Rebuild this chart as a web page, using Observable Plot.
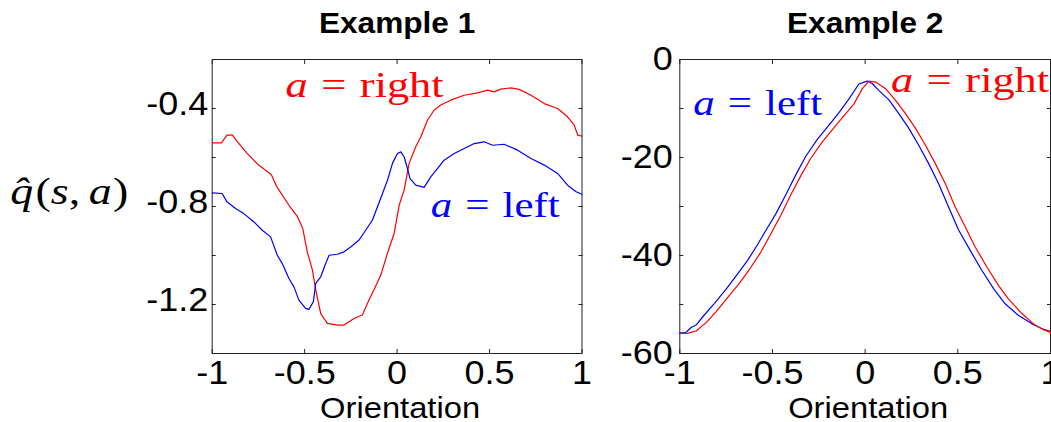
<!DOCTYPE html>
<html>
<head>
<meta charset="utf-8">
<script src="https://cdn.jsdelivr.net/npm/d3@7"></script>
<script src="https://cdn.jsdelivr.net/npm/@observablehq/plot@0.6"></script>
<style>
  html, body { margin: 0; padding: 0; background: #fff; }
  #wrap { position: relative; width: 1051px; height: 422px; overflow: hidden; background: #fff; }
  #wrap > svg { position: absolute; top: 0; }
</style>
</head>
<body>
<div id="wrap"></div>
<script>
// ---------- Example 1 data ----------
const ex1RightX = [-1, -0.95, -0.92, -0.89, -0.87, -0.81, -0.75, -0.68, -0.65, -0.585, -0.54, -0.51, -0.486, -0.458, -0.44, -0.413, -0.377, -0.323, -0.287, -0.233, -0.188, -0.152, -0.125, -0.088, -0.052, -0.016, 0.011, 0.038, 0.065, 0.101, 0.128, 0.164, 0.2, 0.236, 0.29, 0.363, 0.435, 0.489, 0.525, 0.56, 0.615, 0.66, 0.724, 0.796, 0.868, 0.922, 0.958, 0.977, 1];
const ex1RightY = [-0.54, -0.54, -0.509, -0.509, -0.53, -0.584, -0.63, -0.67, -0.72, -0.795, -0.84, -0.89, -0.985, -1.06, -1.14, -1.237, -1.277, -1.284, -1.284, -1.257, -1.243, -1.182, -1.14, -1.08, -0.99, -0.91, -0.795, -0.733, -0.624, -0.556, -0.516, -0.448, -0.407, -0.386, -0.366, -0.346, -0.336, -0.325, -0.332, -0.321, -0.316, -0.322, -0.346, -0.38, -0.4, -0.434, -0.468, -0.509, -0.513];
const ex1LeftX = [-1, -0.946, -0.92, -0.874, -0.829, -0.774, -0.729, -0.684, -0.648, -0.621, -0.585, -0.558, -0.531, -0.495, -0.477, -0.453, -0.44, -0.413, -0.39, -0.368, -0.323, -0.287, -0.251, -0.206, -0.17, -0.134, -0.106, -0.079, -0.052, -0.025, 0.002, 0.02, 0.038, 0.056, 0.07, 0.101, 0.146, 0.182, 0.218, 0.254, 0.309, 0.363, 0.417, 0.471, 0.516, 0.579, 0.652, 0.724, 0.796, 0.868, 0.922, 0.968, 1];
const ex1LeftY = [-0.744, -0.747, -0.781, -0.808, -0.829, -0.863, -0.897, -0.924, -0.999, -1.033, -1.094, -1.128, -1.182, -1.216, -1.22, -1.189, -1.114, -1.087, -1.04, -0.999, -0.995, -0.985, -0.965, -0.937, -0.897, -0.856, -0.801, -0.747, -0.693, -0.624, -0.584, -0.577, -0.597, -0.645, -0.686, -0.713, -0.722, -0.679, -0.645, -0.611, -0.584, -0.563, -0.543, -0.536, -0.55, -0.546, -0.57, -0.604, -0.631, -0.665, -0.713, -0.74, -0.75];

// ---------- Example 2 data ----------
const ex2LeftX = [-1, -0.97, -0.939, -0.912, -0.876, -0.814, -0.751, -0.697, -0.634, -0.581, -0.536, -0.482, -0.428, -0.375, -0.321, -0.258, -0.195, -0.142, -0.088, -0.034, 0.011, 0.038, 0.073, 0.127, 0.181, 0.235, 0.289, 0.342, 0.396, 0.45, 0.504, 0.566, 0.629, 0.692, 0.754, 0.826, 0.898, 0.952, 1];
const ex2LeftY = [-55.8, -55.8, -54.7, -54.2, -52.5, -49.8, -46.9, -44.2, -41.0, -37.8, -34.9, -31.5, -27.6, -23.6, -19.8, -16.3, -13.4, -10.9, -8.1, -5.0, -4.4, -4.9, -6.3, -8.2, -11.0, -14.0, -17.5, -21.2, -25.3, -30.1, -34.8, -38.9, -43.0, -46.7, -49.8, -52.2, -53.9, -54.9, -55.5];
const ex2RightX = [-1, -0.96, -0.912, -0.858, -0.805, -0.751, -0.679, -0.625, -0.563, -0.509, -0.455, -0.401, -0.348, -0.294, -0.231, -0.168, -0.115, -0.061, -0.016, 0.02, 0.056, 0.109, 0.163, 0.217, 0.271, 0.324, 0.378, 0.432, 0.486, 0.539, 0.593, 0.656, 0.719, 0.772, 0.844, 0.916, 0.965, 1];
const ex2RightY = [-55.9, -55.9, -55.4, -53.7, -51.5, -49.0, -45.7, -42.9, -39.3, -35.6, -31.8, -27.6, -23.8, -20.2, -16.8, -13.9, -11.5, -9.1, -6.0, -4.4, -4.6, -5.9, -8.3, -11.0, -14.0, -17.4, -21.2, -25.3, -30.1, -34.1, -38.2, -42.3, -46.1, -48.8, -51.8, -54.2, -55.2, -55.7];

// ---------- ticks and labels ----------
const xTicks = [-1, -0.5, 0, 0.5, 1];
const ex1YTicks = [-1.2, -1.0, -0.8, -0.6, -0.4];
const ex1YLabels = [-1.2, -0.8, -0.4];
const ex2YTicks = [-60, -50, -40, -30, -20, -10, 0];
const ex2YLabels = [-60, -40, -20, 0];
const titles = ["Example 1", "Example 2"];
const xLabel = "Orientation";
const yLabel = "q(s,a)";
const annRight = "a = right";
const annLeft = "a = left";

const fmt = d => (d < 0 ? "-" : "") + String(Math.abs(d));
const pts = (xs, ys) => xs.map((x, i) => ({x, y: ys[i]}));
const SANS = "Liberation Sans, Arial, Helvetica, sans-serif";
const SERIF = "Liberation Serif, Times New Roman, serif";

function panel({width, marginLeft, marginRight, yDomain, yTicks, yLabels, yPad, yDy, series, title, anns, withYLabel}) {
  const marks = [
    Plot.frame({stroke: "#222", strokeWidth: 1}),
    Plot.axisY({ticks: yTicks, anchor: "left", tickSize: -4, tickFormat: () => "", label: null, stroke: "#222"}),
    Plot.axisY({ticks: yTicks, anchor: "right", tickSize: -4, tickFormat: () => "", label: null, stroke: "#222"}),
    Plot.axisX({ticks: xTicks, anchor: "bottom", tickSize: -4, tickFormat: () => "", label: null, stroke: "#222"}),
    Plot.axisX({ticks: xTicks, anchor: "top", tickSize: -4, tickFormat: () => "", label: null, stroke: "#222"}),
    Plot.axisY({ticks: yLabels, anchor: "left", tickSize: 0, tickPadding: yPad, tickFormat: fmt, label: null, fontSize: 33, dy: yDy, fill: "#000"}),
    Plot.axisX({ticks: xTicks, anchor: "bottom", tickSize: 0, tickPadding: 7, tickFormat: fmt, label: null, fontSize: 33, fill: "#000"}),
    ...series.map(s => Plot.line(pts(s.x, s.y), {x: "x", y: "y", stroke: s.color, strokeWidth: 1.2})),
    Plot.text([title], {frameAnchor: "top", dy: -27, lineAnchor: "bottom", fontSize: 29, fontWeight: "bold", fill: "#000"}),
    Plot.text([xLabel], {frameAnchor: "bottom", dy: 64, dx: 3, lineAnchor: "bottom", fontSize: 30, fill: "#000"}),
    ...anns.map(a => Plot.text([a], {x: () => a.x, y: () => a.y, text: () => a.text, textAnchor: "start", lineAnchor: "bottom", fontSize: 36, fontFamily: SERIF, fill: a.color}))
  ];
  if (withYLabel) {
    marks.push(Plot.text([yLabel], {frameAnchor: "left", dx: -202, dy: -3, textAnchor: "start", lineAnchor: "bottom", fontSize: 38, fontFamily: SERIF, fill: "#000"}));
  }
  return Plot.plot({
    width, height: 422,
    marginLeft, marginRight, marginTop: 59, marginBottom: 69,
    x: {domain: [-1, 1]},
    y: {domain: yDomain},
    style: {fontFamily: SANS, background: "transparent", overflow: "visible"},
    marks
  });
}

const p1 = panel({
  width: 600, marginLeft: 211.7, marginRight: 18.5,
  yDomain: [-1.4, -0.2], yTicks: ex1YTicks, yLabels: ex1YLabels, yPad: 4, yDy: -4,
  series: [{x: ex1RightX, y: ex1RightY, color: "#ff0000"}, {x: ex1LeftX, y: ex1LeftY, color: "#0000ff"}],
  title: titles[0],
  anns: [{x: -0.603, y: -0.355, text: annRight, color: "#ff0000"}, {x: 0.182, y: -0.841, text: annLeft, color: "#0000ff"}],
  withYLabel: true
});
const p2 = panel({
  width: 451, marginLeft: 79.3, marginRight: 1,
  yDomain: [-60, 0], yTicks: ex2YTicks, yLabels: ex2YLabels, yPad: 7, yDy: 0,
  series: [{x: ex2LeftX, y: ex2LeftY, color: "#0000ff"}, {x: ex2RightX, y: ex2RightY, color: "#ff0000"}],
  title: titles[1],
  anns: [{x: -0.928, y: -11.4, text: annLeft, color: "#0000ff"}, {x: 0.14, y: -6.7, text: annRight, color: "#ff0000"}],
  withYLabel: false
});
p1.style.left = "0px";
p2.style.left = "600px";
const wrap = document.getElementById("wrap");
wrap.appendChild(p1);
wrap.appendChild(p2);

// ---------- typographic touch-ups (math-style labels, slight horizontal stretch) ----------
const NS = "http://www.w3.org/2000/svg";
function tspan(parent, str, italic, dx) {
  const t = document.createElementNS(NS, "tspan");
  t.textContent = str;
  if (italic) t.setAttribute("font-style", "italic");
  if (dx) t.setAttribute("dx", dx);
  parent.appendChild(t);
}
const widths = {"a = right": 158, "a = left": 129, "q(s,a)": 118};
for (const svg of [p1, p2]) {
  for (const el of svg.querySelectorAll("text")) {
    const s = el.textContent;
    if (!s) continue;
    if (s === annRight || s === annLeft) {
      el.textContent = "";
      el.setAttribute("font-weight", "300");
      tspan(el, "a", true);
      tspan(el, "=", false, 11);
      tspan(el, s === annRight ? "right" : "left", false, 11);
      el.setAttribute("textLength", widths[s]);
      el.setAttribute("lengthAdjust", "spacingAndGlyphs");
    } else if (s === yLabel) {
      el.textContent = "";
      tspan(el, "q\u0302", true);
      tspan(el, "(", false, 2);
      tspan(el, "s", true);
      tspan(el, ",", false);
      tspan(el, "a", true, 7);
      tspan(el, ")", false, 1);
      el.setAttribute("textLength", widths[s]);
      el.setAttribute("lengthAdjust", "spacingAndGlyphs");
    } else {
      const L = el.getComputedTextLength();
      el.setAttribute("textLength", (L * 1.09).toFixed(1));
      el.setAttribute("lengthAdjust", "spacingAndGlyphs");
    }
  }
}
</script>
</body>
</html>
